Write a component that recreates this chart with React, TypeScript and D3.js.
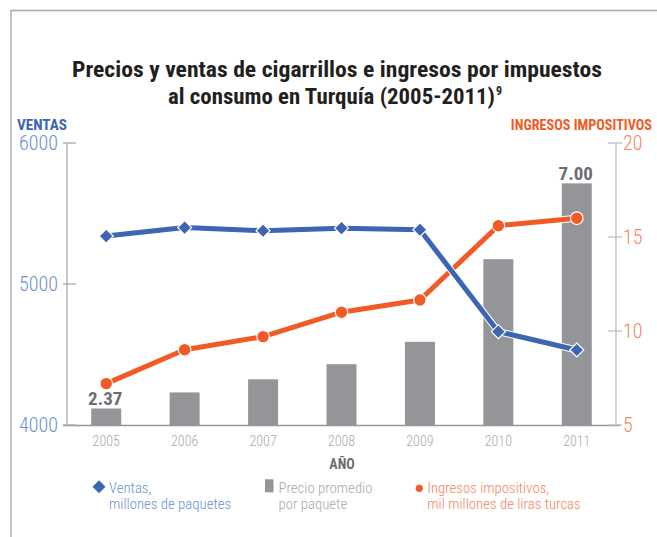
import React from "react";
import * as d3 from "d3";

const years = ["2005", "2006", "2007", "2008", "2009", "2010", "2011"];
const ventas = [5340, 5400, 5378, 5396, 5385, 4662, 4532];
const precio = [2.37, 2.7, 2.97, 3.28, 3.74, 5.44, 7.0];
const ingresos = [7.2, 9.0, 9.7, 11.0, 11.65, 15.6, 16.0];
const leftTicks = [4000, 5000, 6000];
const rightTicks = [5, 10, 15, 20];
const priceLabels = [{ i: 0, text: "2.37" }, { i: 6, text: "7.00" }];

const W = 657;
const H = 537;
const COND = "'Liberation Sans Narrow', 'Roboto Condensed', 'Arial Narrow', Roboto, sans-serif";
const BLUE = "#3d65b2";
const BLUE_TXT = "#6d8fd3";
const ORANGE = "#f15a24";
const ORANGE_TXT = "#f6845d";
const BAR = "#939598";

export default function App() {
  const left = 67;
  const right = 616;
  const top = 143;
  const bottom = 425;

  const x = d3.scaleBand().domain(years).range([left, right]).paddingInner(0.6175).paddingOuter(0.30875);
  const yL = d3.scaleLinear().domain([4000, 6000]).range([bottom, top]);
  const yR = d3.scaleLinear().domain([5, 20]).range([bottom, top]);
  const yP = d3.scaleLinear().domain([2.03, 7.83]).range([bottom, top]);
  const cx = (y: string) => (x(y) as number) + x.bandwidth() / 2;

  const ventasLine = d3.line<number>().x((_, i) => cx(years[i])).y((d) => yL(d))(ventas) as string;
  const ingresosLine = d3.line<number>().x((_, i) => cx(years[i])).y((d) => yR(d))(ingresos) as string;

  const diamond = (px: number, py: number, r: number) =>
    `M${px},${py - r}L${px + r},${py}L${px},${py + r}L${px - r},${py}Z`;

  return (
    <svg width={W} height={H} style={{ position: "absolute", left: 0, top: 0 }} fontFamily={COND}>
      <rect x={0} y={0} width={W} height={H} fill="#fff" />
      {/* frame */}
      <path d={`M11,${H}L11,10.5L${W},10.5`} fill="none" stroke="#a7a9ac" strokeWidth={1.4} />

      {/* title */}
      <text x={72} y={77} fontSize={22.5} fontWeight={700} fill="#231f20" textLength={530} lengthAdjust="spacingAndGlyphs">
        Precios y ventas de cigarrillos e ingresos por impuestos
      </text>
      <text x={168} y={104} fontSize={22.5} fontWeight={700} fill="#231f20" textLength={327} lengthAdjust="spacingAndGlyphs">
        al consumo en Turquía (2005-2011)
      </text>
      <text x={496} y={95} fontSize={12} fontWeight={700} fill="#231f20">9</text>

      {/* axis titles */}
      <text x={17} y={129.5} fontSize={14.2} fontWeight={700} fill={BLUE} textLength={50} lengthAdjust="spacingAndGlyphs">VENTAS</text>
      <text x={652} y={130} textAnchor="end" fontSize={14.2} fontWeight={700} fill={ORANGE}>INGRESOS IMPOSITIVOS</text>

      {/* bars */}
      {years.map((yr, i) => (
        <rect key={yr} x={x(yr)} y={yP(precio[i])} width={x.bandwidth()} height={bottom - yP(precio[i])} fill={BAR} />
      ))}
      {priceLabels.map((p) => (
        <text key={p.i} x={cx(years[p.i]) - 1} y={yP(precio[p.i]) - 3} textAnchor="middle" fontSize={19} fontWeight={700} fill="#6d6e71">
          {p.text}
        </text>
      ))}

      {/* axes */}
      <line x1={left} x2={left} y1={top} y2={bottom} stroke="#a7a9ac" strokeWidth={1.3} />
      <line x1={right} x2={right} y1={top} y2={bottom} stroke="#bcbec0" strokeWidth={1.3} />
      <line x1={63} x2={620} y1={bottom + 0.5} y2={bottom + 0.5} stroke="#939598" strokeWidth={1.3} />
      {leftTicks.map((t) => (
        <g key={t}>
          <line x1={left - 4} x2={left + 9} y1={yL(t)} y2={yL(t)} stroke="#a7a9ac" strokeWidth={1.3} />
          <text x={58} y={yL(t)} dy="0.36em" textAnchor="end" fontSize={20} fontWeight={300} fill={BLUE_TXT}>
            {t}
          </text>
        </g>
      ))}
      {rightTicks.map((t) => (
        <g key={t}>
          <line x1={right - 8} x2={right + 6} y1={yR(t)} y2={yR(t)} stroke="#bcbec0" strokeWidth={1.3} />
          <text x={623} y={yR(t)} dy="0.36em" fontSize={20} fontWeight={300} fill={ORANGE_TXT}>
            {t}
          </text>
        </g>
      ))}
      {years.map((yr) => (
        <text key={yr} x={cx(yr)} y={446} textAnchor="middle" fontSize={14} fontWeight={300} fill="#a7a9ac">
          {yr}
        </text>
      ))}
      <text x={342} y={468.5} textAnchor="middle" fontSize={14} fontWeight={700} fill="#6d6e71">AÑO</text>

      {/* lines */}
      <path d={ingresosLine} fill="none" stroke="#fff" strokeWidth={7} strokeLinejoin="round" />
      <path d={ingresosLine} fill="none" stroke={ORANGE} strokeWidth={5} strokeLinejoin="round" />
      <path d={ventasLine} fill="none" stroke="#fff" strokeWidth={7} strokeLinejoin="round" />
      <path d={ventasLine} fill="none" stroke={BLUE} strokeWidth={5} strokeLinejoin="round" />
      {ingresos.map((v, i) => (
        <circle key={i} cx={cx(years[i])} cy={yR(v)} r={6.3} fill={ORANGE} stroke="#fff" strokeWidth={1.2} />
      ))}
      {ventas.map((v, i) => (
        <path key={i} d={diamond(cx(years[i]), yL(v), 7)} fill={BLUE} stroke="#fff" strokeWidth={1.2} />
      ))}

      {/* legend */}
      <path d={diamond(99, 486.7, 6.5)} fill={BLUE} />
      <text x={109} y={492.7} fontSize={14.8} fontWeight={300} fill={BLUE_TXT}>Ventas,</text>
      <text x={109} y={509.3} fontSize={14.8} fontWeight={300} fill={BLUE_TXT}>millones de paquetes</text>
      <rect x={265} y={479.3} width={8.5} height={13} fill={BAR} />
      <text x={278.5} y={492.7} fontSize={14.8} fontWeight={300} fill="#a7a9ac">Precio promedio</text>
      <text x={278.5} y={509.3} fontSize={14.8} fontWeight={300} fill="#a7a9ac">por paquete</text>
      <circle cx={419.3} cy={488.3} r={3.6} fill={ORANGE} />
      <text x={427.3} y={492.7} fontSize={14.8} fontWeight={300} fill={ORANGE_TXT}>Ingresos impositivos,</text>
      <text x={427.3} y={509.3} fontSize={14.8} fontWeight={300} fill={ORANGE_TXT}>mil millones de liras turcas</text>
    </svg>
  );
}
